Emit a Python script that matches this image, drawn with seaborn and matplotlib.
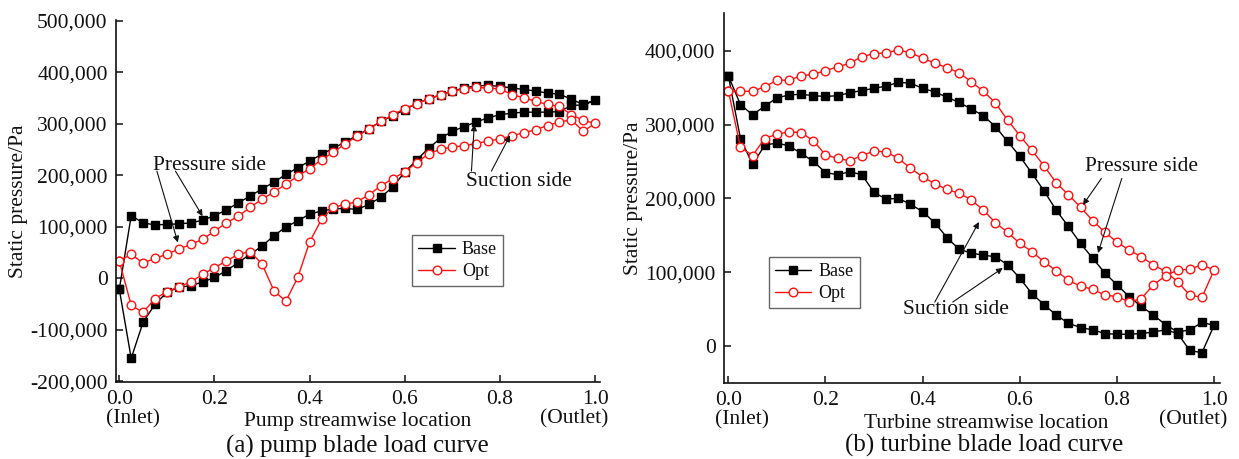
import matplotlib
matplotlib.use("Agg")
import matplotlib.pyplot as plt
import matplotlib.transforms as mtransforms
from matplotlib.ticker import FuncFormatter, MultipleLocator
import pandas as pd
import seaborn as sns

# Streamwise stations along the blade (0 = inlet, 1 = outlet)
location = [0.000, 0.025, 0.050, 0.075, 0.100, 0.125, 0.150, 0.175, 0.200, 0.225,
            0.250, 0.275, 0.300, 0.325, 0.350, 0.375, 0.400, 0.425, 0.450, 0.475,
            0.500, 0.525, 0.550, 0.575, 0.600, 0.625, 0.650, 0.675, 0.700, 0.725,
            0.750, 0.775, 0.800, 0.825, 0.850, 0.875, 0.900, 0.925, 0.950, 0.975,
            1.000]

# Pump blade, static pressure (Pa)
# pressure side: every station from inlet to outlet
pump_base_ps = [-21000, 122000, 108000, 104000, 105000, 106000, 108000, 113000, 122000, 133000,
                147000, 160000, 174000, 187000, 202000, 215000, 228000, 241000, 253000, 265000,
                278000, 291000, 305000, 316000, 328000, 340000, 349000, 356000, 364000, 370000,
                374000, 375000, 373000, 370000, 367000, 364000, 360000, 358000, 348000, 338000,
                346000]
# suction side: interior stations 0.025 ... 0.975
pump_base_ss = [-155000, -85000, -50000, -27000, -17000, -14000, -7000, 2000, 15000,
                31000, 47000, 63000, 83000, 100000, 112000, 125000, 131000, 135000, 136000,
                134000, 144000, 158000, 178000, 207000, 230000, 253000, 272000, 286000, 295000,
                304000, 312000, 318000, 321000, 323000, 323000, 323000, 324000, 336000, 337000]
pump_opt_ps = [34000, 47000, 30000, 39000, 47000, 57000, 66000, 76000, 92000, 108000,
               121000, 138000, 154000, 168000, 183000, 199000, 213000, 231000, 245000, 262000,
               276000, 291000, 305000, 318000, 330000, 339000, 349000, 357000, 364000, 368000,
               371000, 370000, 368000, 357000, 351000, 344000, 338000, 334000, 318000, 307000,
               301000]
pump_opt_ss = [-52000, -66000, -39000, -26000, -16000, -7000, 8000, 21000, 34000,
               47000, 52000, 28000, -24000, -44000, 2000, 71000, 115000, 138000, 144000,
               149000, 163000, 180000, 194000, 207000, 225000, 242000, 251000, 255000, 258000,
               262000, 267000, 271000, 277000, 283000, 289000, 297000, 304000, 308000, 286000]

# Turbine blade, static pressure (Pa)
turb_base_ps = [366000, 327000, 313000, 325000, 336000, 340000, 341000, 339000, 338000, 339000,
                343000, 346000, 349000, 352000, 357000, 356000, 349000, 344000, 337000, 330000,
                321000, 312000, 297000, 277000, 257000, 234000, 210000, 184000, 162000, 139000,
                119000, 99000, 83000, 67000, 54000, 42000, 29000, 19000, 22000, 32000,
                28000]
turb_base_ss = [281000, 246000, 272000, 275000, 271000, 261000, 250000, 235000, 232000,
                236000, 232000, 208000, 199000, 200000, 192000, 182000, 167000, 147000, 131000,
                126000, 123000, 121000, 110000, 92000, 71000, 56000, 42000, 31000, 25000,
                22000, 17000, 16000, 16000, 17000, 19000, 22000, 17000, -6000, -9000]
turb_opt_ps = [346000, 345000, 345000, 351000, 360000, 360000, 366000, 368000, 373000, 378000,
               383000, 392000, 396000, 397000, 401000, 397000, 390000, 383000, 377000, 370000,
               358000, 345000, 329000, 306000, 285000, 265000, 244000, 221000, 205000, 188000,
               170000, 154000, 141000, 130000, 121000, 110000, 101000, 87000, 69000, 66000,
               103000]
turb_opt_ss = [269000, 258000, 281000, 287000, 290000, 289000, 278000, 259000, 254000,
               251000, 258000, 264000, 263000, 254000, 241000, 229000, 220000, 212000, 207000,
               198000, 184000, 167000, 154000, 139000, 128000, 114000, 102000, 89000, 81000,
               77000, 69000, 67000, 60000, 64000, 83000, 95000, 103000, 104000, 110000]

cases = ["Base", "Opt"]
tick_values = [0.0, 0.2, 0.4, 0.6, 0.8, 1.0]
tick_labels = ["0.0\n(Inlet)", "0.2", "0.4", "0.6", "0.8", "1.0\n(Outlet)"]

sns.set_style("ticks")
plt.rcParams["font.family"] = ["Liberation Serif", "DejaVu Serif"]
plt.rcParams["axes.unicode_minus"] = False
plt.rcParams["text.color"] = "#111111"
plt.rcParams["axes.labelcolor"] = "#111111"
plt.rcParams["xtick.color"] = "#111111"
plt.rcParams["ytick.color"] = "#111111"

STYLE = {
    "Base": dict(color="black", marker="s", markersize=5.5, markerfacecolor="black",
                 markeredgecolor="black", markeredgewidth=1.0),
    "Opt": dict(color="#ff1010", marker="o", markersize=6.2, markerfacecolor="white",
                markeredgecolor="#ff1010", markeredgewidth=1.0),
}


def blade_loop(ps, ss):
    """Closed outline: pressure side inlet->outlet, suction side back to inlet."""
    xs = location + location[-2:0:-1] + [location[0]]
    ys = ps + ss[::-1] + [ps[0]]
    return pd.DataFrame({"location": xs, "pressure": ys})


def draw_panel(ax, curves, xlabel, ylim, xlim):
    for case in cases:
        ps, ss = curves[case]
        sns.lineplot(data=blade_loop(ps, ss), x="location", y="pressure", sort=False,
                     estimator=None, ax=ax, label=case, linewidth=1.0, **STYLE[case])
    ax.set_xlim(*xlim)
    ax.set_ylim(*ylim)
    ax.yaxis.set_major_locator(MultipleLocator(100000))
    ax.yaxis.set_major_formatter(FuncFormatter(lambda v, p: f"{v:,.0f}"))
    ax.set_xticks(tick_values)
    ax.set_xticklabels(tick_labels, linespacing=1.0)
    ax.tick_params(direction="in", length=5, width=1.1, labelsize=15.5, pad=6,
                   colors="#111111")
    sns.despine(ax=ax)
    for sp in ("left", "bottom"):
        ax.spines[sp].set_linewidth(1.2)
        ax.spines[sp].set_color("#111111")
    # keep the first number centred on its tick and align the end captions
    labels = ax.get_xticklabels()
    shift = 9.7 / 72
    fig = ax.figure
    labels[0].set_ha("left")
    labels[0].set_multialignment("left")
    labels[0].set_transform(labels[0].get_transform()
                            + mtransforms.ScaledTranslation(-shift, 0, fig.dpi_scale_trans))
    labels[-1].set_ha("right")
    labels[-1].set_multialignment("right")
    labels[-1].set_transform(labels[-1].get_transform()
                             + mtransforms.ScaledTranslation(shift, 0, fig.dpi_scale_trans))
    ax.set_xlabel(xlabel, fontsize=15.5)
    ax.set_ylabel("Static pressure/Pa", fontsize=15.5)
    ax.xaxis.label.set_va("center")
    ax.yaxis.label.set_va("center")


def arrow(ax, tail, tip):
    ax.annotate("", xy=tip, xytext=tail,
                arrowprops=dict(arrowstyle="-|>", color="#111111", lw=0.8,
                                mutation_scale=9, shrinkA=0, shrinkB=0))


fig = plt.figure(figsize=(12.39, 4.59), dpi=100)
ax1 = fig.add_axes([0.0936, 0.1678, 0.3906, 0.7887])
ax2 = fig.add_axes([0.5843, 0.1656, 0.4003, 0.8061])

draw_panel(ax1, {"Base": (pump_base_ps, pump_base_ss), "Opt": (pump_opt_ps, pump_opt_ss)},
           "Pump streamwise location", (-201000, 502000), (-0.007, 1.01))
draw_panel(ax2, {"Base": (turb_base_ps, turb_base_ss), "Opt": (turb_opt_ps, turb_opt_ss)},
           "Turbine streamwise location", (-50000, 451000), (-0.009, 1.012))

ax1.xaxis.set_label_coords(0.5, -0.110)
ax1.yaxis.set_label_coords(-0.2004, 0.5)
ax2.xaxis.set_label_coords(0.528, -0.109)
ax2.yaxis.set_label_coords(-0.183, 0.5)

legend_kw = dict(loc="upper left", frameon=True, fancybox=False, edgecolor="#666666",
                 framealpha=1, fontsize=13, handlelength=2.0, borderpad=0.35,
                 labelspacing=0.25, handletextpad=0.4, borderaxespad=0)
leg1 = ax1.legend(bbox_to_anchor=(0.612, 0.406), **legend_kw)
leg2 = ax2.legend(bbox_to_anchor=(0.0907, 0.3405), **legend_kw)
for leg in (leg1, leg2):
    leg.get_frame().set_linewidth(1.0)

# side annotations, pump blade
ax1.text(0.070, 220000, "Pressure side", fontsize=15.5, ha="left", va="center")
arrow(ax1, (0.079, 208500), (0.123, 70000))
arrow(ax1, (0.118, 208500), (0.175, 121000))
ax1.text(0.728, 189000, "Suction side", fontsize=15.5, ha="left", va="center")
arrow(ax1, (0.740, 208500), (0.746, 299000))
arrow(ax1, (0.782, 208500), (0.821, 277700))

# side annotations, turbine blade
ax2.text(0.735, 243000, "Pressure side", fontsize=15.5, ha="left", va="center")
arrow(ax2, (0.768, 227000), (0.730, 191000))
arrow(ax2, (0.810, 227000), (0.761, 126000))
ax2.text(0.359, 49700, "Suction side", fontsize=15.5, ha="left", va="center")
arrow(ax2, (0.425, 59600), (0.516, 168000))
arrow(ax2, (0.462, 59600), (0.565, 105700))

fig.text(357.5 / 1239, 1 - 446.7 / 459, "(a) pump blade load curve", fontsize=18,
         ha="center", va="center")
fig.text(984.5 / 1239, 1 - 445.0 / 459, "(b) turbine blade load curve", fontsize=18,
         ha="center", va="center")

fig.savefig("out.png", dpi=100)
